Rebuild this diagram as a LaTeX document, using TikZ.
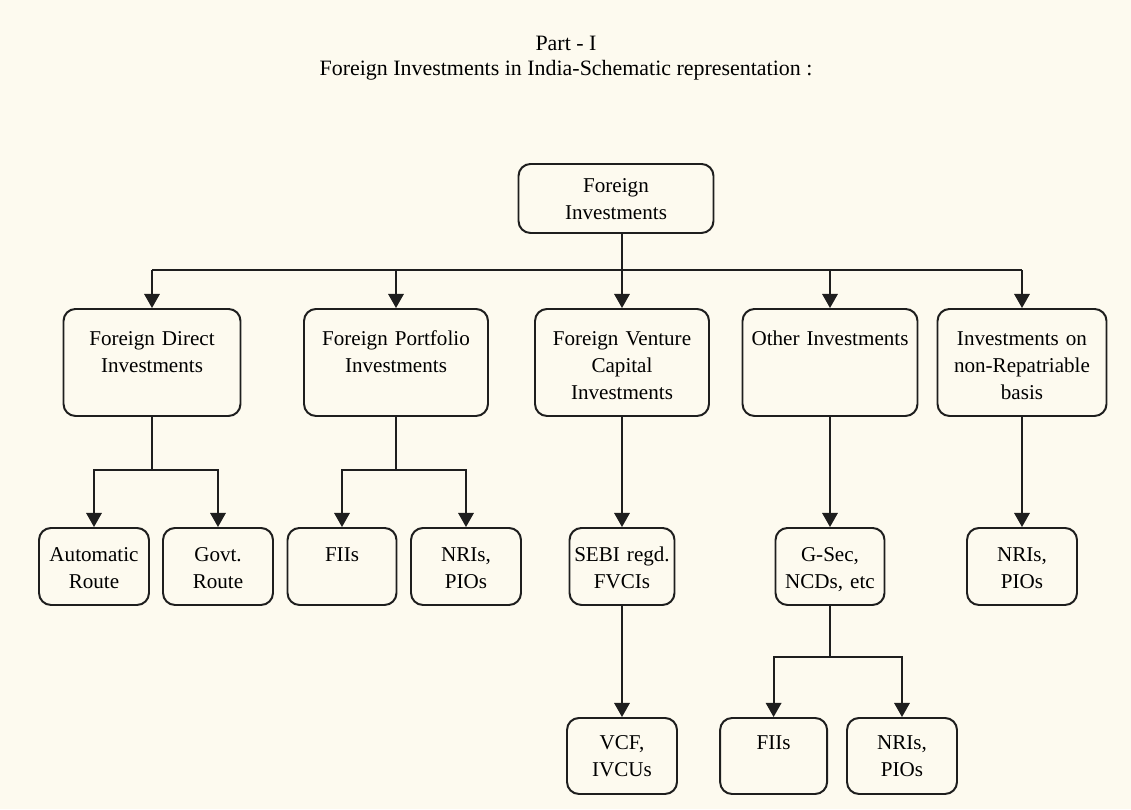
\documentclass[tikz,border=0pt]{standalone}
\usepackage{fontspec}
\setmainfont{Liberation Serif}
\usepackage{xcolor}
\usetikzlibrary{arrows.meta, positioning}

\definecolor{paper}{HTML}{FDFAEF}
\definecolor{ink}{HTML}{1E1E1E}

\begin{document}
\begin{tikzpicture}[
    font=\fontsize{15}{19}\selectfont,
    box/.style={rectangle, draw=ink, line width=1.4pt, rounded corners=0.3cm, inner sep=0pt, align=center, anchor=north},
    topbox/.style={box, text height=0.725cm, text depth=1.0cm},
    kind/.style={box, text height=0.925cm, text depth=1.75cm},
    route/.style={box, text height=0.85cm, text depth=1.075cm},
    leaf/.style={box, text height=0.8cm, text depth=1.1cm},
    link/.style={line width=1.3pt, draw=ink},
    arrow/.style={link, -{Triangle[width=11pt,length=10pt]}},
]

% page
\fill[paper] (0,0) rectangle (28.275,-20.225);
\useasboundingbox (0,0) rectangle (28.275,-20.225);

% Title
\node[align=center, font=\fontsize{15.6}{17.8}\selectfont] (title) at (14.15,-1.45) {Part - I\\Foreign Investments in India-Schematic representation :};

% Root
\node[topbox, text width=4.875cm] (fi) at (15.4,-4.075) {Foreign\\Investments};

% Row 2: kinds of investment
\node[kind, text width=4.425cm] (fdi) at (3.8,-7.7) {Foreign Direct\\Investments};
\node[kind, text width=4.6cm] (fpi) at (9.9,-7.7) {Foreign Portfolio\\Investments};
\node[kind, text width=4.35cm] (fvci) at (15.55,-7.7) {Foreign Venture\\Capital\\Investments};
\node[kind, text width=4.375cm] (other) at (20.75,-7.7) {Other Investments};
\node[kind, text width=4.225cm] (nonrep) at (25.55,-7.7) {Investments on\\non-Repatriable\\basis};

% Row 3: routes and instruments
\node[route, text width=2.75cm] (auto) at (2.35,-13.175) {Automatic\\Route};
\node[route, text width=2.75cm] (govt) at (5.45,-13.175) {Govt.\\Route};
\node[route, text width=2.725cm] (fii) at (8.55,-13.175) {FIIs};
\node[route, text width=2.75cm] (nri) at (11.65,-13.175) {NRIs,\\PIOs};
\node[route, text width=2.625cm] (sebi) at (15.55,-13.175) {SEBI regd.\\FVCIs};
\node[route, text width=2.725cm] (gsec) at (20.75,-13.175) {G-Sec,\\NCDs, etc};
\node[route, text width=2.75cm] (nrinr) at (25.55,-13.175) {NRIs,\\PIOs};

% Row 4
\node[leaf, text width=2.75cm] (vcf) at (15.55,-17.925) {VCF,\\IVCUs};
\node[leaf, text width=2.675cm] (fiis) at (19.34,-17.925) {FIIs};
\node[leaf, text width=2.75cm] (nris) at (22.55,-17.925) {NRIs,\\PIOs};

% split levels
\coordinate (bus) at (0,-6.75);
\coordinate (split1) at (0,-11.75);
\coordinate (split2) at (0,-16.425);

% root to row 2
\draw[link] (fdi.north |- bus) -- (nonrep.north |- bus);
\draw[arrow] (fi.south -| fvci.north) -- (fvci.north);
\draw[arrow] (fdi.north |- bus) -- (fdi.north);
\draw[arrow] (fpi.north |- bus) -- (fpi.north);
\draw[arrow] (other.north |- bus) -- (other.north);
\draw[arrow] (nonrep.north |- bus) -- (nonrep.north);

% row 2 to row 3
\draw[link] (fdi.south) -- (fdi.south |- split1);
\draw[arrow] (fdi.south |- split1) -| (auto.north);
\draw[arrow] (fdi.south |- split1) -| (govt.north);
\draw[link] (fpi.south) -- (fpi.south |- split1);
\draw[arrow] (fpi.south |- split1) -| (fii.north);
\draw[arrow] (fpi.south |- split1) -| (nri.north);
\draw[arrow] (fvci) -- (sebi);
\draw[arrow] (other) -- (gsec);
\draw[arrow] (nonrep) -- (nrinr);

% row 3 to row 4
\draw[arrow] (sebi) -- (vcf);
\draw[link] (gsec.south) -- (gsec.south |- split2);
\draw[arrow] (gsec.south |- split2) -| (fiis.north);
\draw[arrow] (gsec.south |- split2) -| (nris.north);

\end{tikzpicture}
\end{document}
